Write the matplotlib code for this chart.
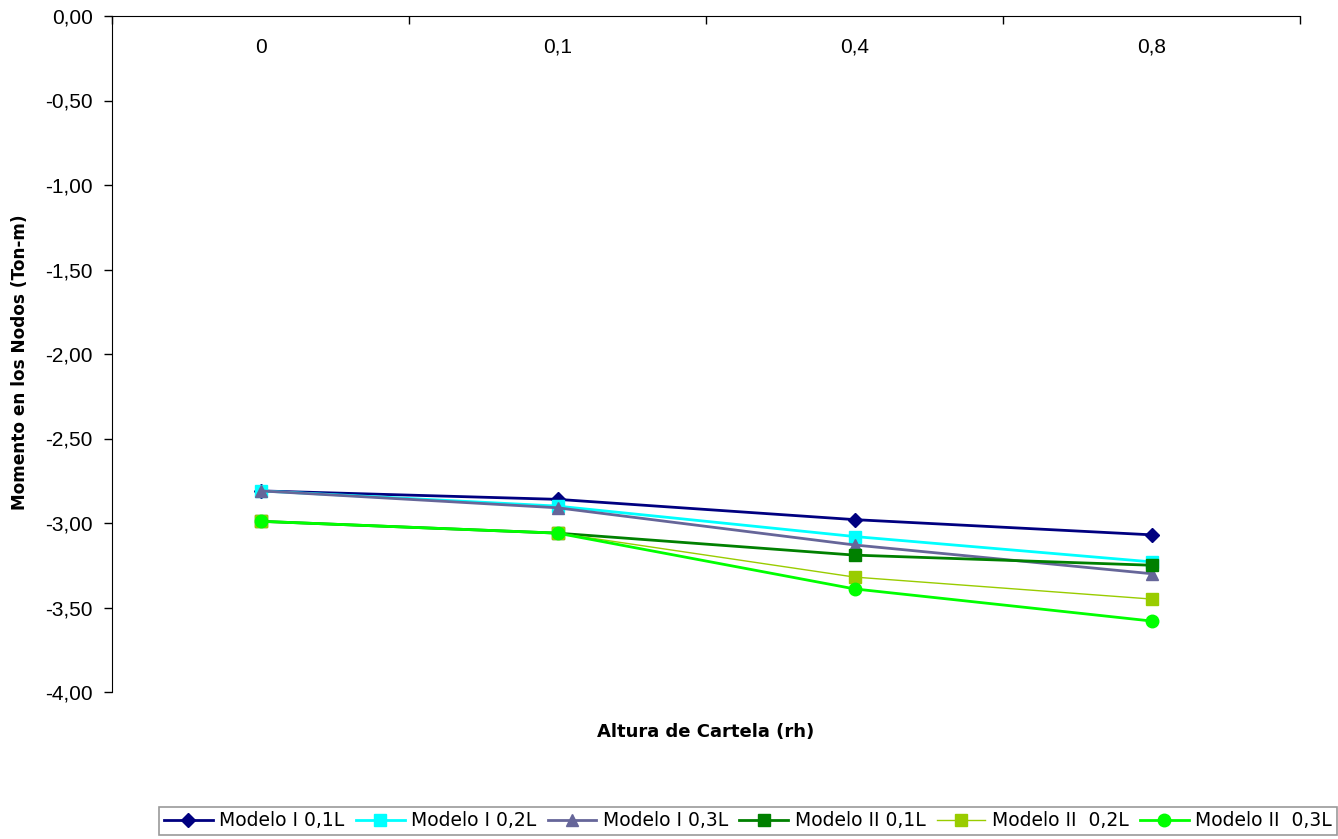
import matplotlib
matplotlib.use("Agg")
import matplotlib.pyplot as plt
import numpy as np

categories = ["0", "0,1", "0,4", "0,8"]
series_names = ["Modelo I 0,1L", "Modelo I 0,2L", "Modelo I 0,3L",
                "Modelo II 0,1L", "Modelo II  0,2L", "Modelo II  0,3L"]
m1_01 = [-2.81, -2.86, -2.98, -3.07]
m1_02 = [-2.81, -2.90, -3.08, -3.23]
m1_03 = [-2.81, -2.91, -3.13, -3.30]
m2_01 = [-2.99, -3.06, -3.19, -3.25]
m2_02 = [-2.99, -3.06, -3.32, -3.45]
m2_03 = [-2.99, -3.06, -3.39, -3.58]
y_ticks = [0.0, -0.5, -1.0, -1.5, -2.0, -2.5, -3.0, -3.5, -4.0]

series = [m1_01, m1_02, m1_03, m2_01, m2_02, m2_03]
colors = ["#000080", "#00FFFF", "#666699", "#008000", "#99CC00", "#00FF00"]
markers = ["D", "s", "^", "s", "s", "o"]
msizes = [7, 8, 8, 8, 8, 9]
lws = [2, 2, 2, 2, 1, 2]

fig = plt.figure(figsize=(13.38, 8.39), dpi=100)
ax = fig.add_axes([112/1338, 1-692/839, (1300-112)/1338, (692-16)/839])

x = np.arange(len(categories))
for s, name, c, m, ms, lw in zip(series, series_names, colors, markers, msizes, lws):
    ax.plot(x, s, color=c, marker=m, markersize=ms, linewidth=lw, label=name,
            markeredgecolor=c)

ax.set_xlim(-0.5, len(categories) - 0.5)
ax.set_ylim(-4.0, 0.0)
ax.set_yticks(y_ticks)
ax.set_yticklabels([f"{v:.2f}".replace(".", ",") for v in y_ticks],
                   fontsize=15, family="Liberation Sans")
ax.tick_params(axis="y", direction="out", length=6, width=1, pad=8)

ax.spines["right"].set_visible(False)
ax.spines["bottom"].set_visible(False)
ax.xaxis.set_ticks_position("top")
ax.set_xticks(np.arange(-0.5, len(categories)), minor=False)
ax.set_xticklabels([])
ax.tick_params(axis="x", which="major", direction="in", length=6, width=1, top=True, bottom=False)
for xi, lab in zip(x, categories):
    ax.text(xi, -0.185, lab, ha="center", va="center", fontsize=15, family="Liberation Sans")

fig.text((112+1300)/2/1338, 1-732/839, "Altura de Cartela (rh)", ha="center", va="center",
         fontsize=13, fontweight="bold", family="DejaVu Sans")
fig.text(20/1338, 1-362/839, "Momento en los Nodos (Ton-m)", ha="center", va="center",
         rotation=90, fontsize=12.2, fontweight="bold", family="DejaVu Sans")

leg = fig.legend(loc="center", bbox_to_anchor=(748/1338, 1-821/839), ncol=6, fontsize=13.5,
                 frameon=True, fancybox=False, edgecolor="#808080", handlelength=2.6,
                 handletextpad=0.35, columnspacing=0.6, borderpad=0.25)
leg.get_frame().set_linewidth(1.2)

fig.savefig("out.png", dpi=100)
